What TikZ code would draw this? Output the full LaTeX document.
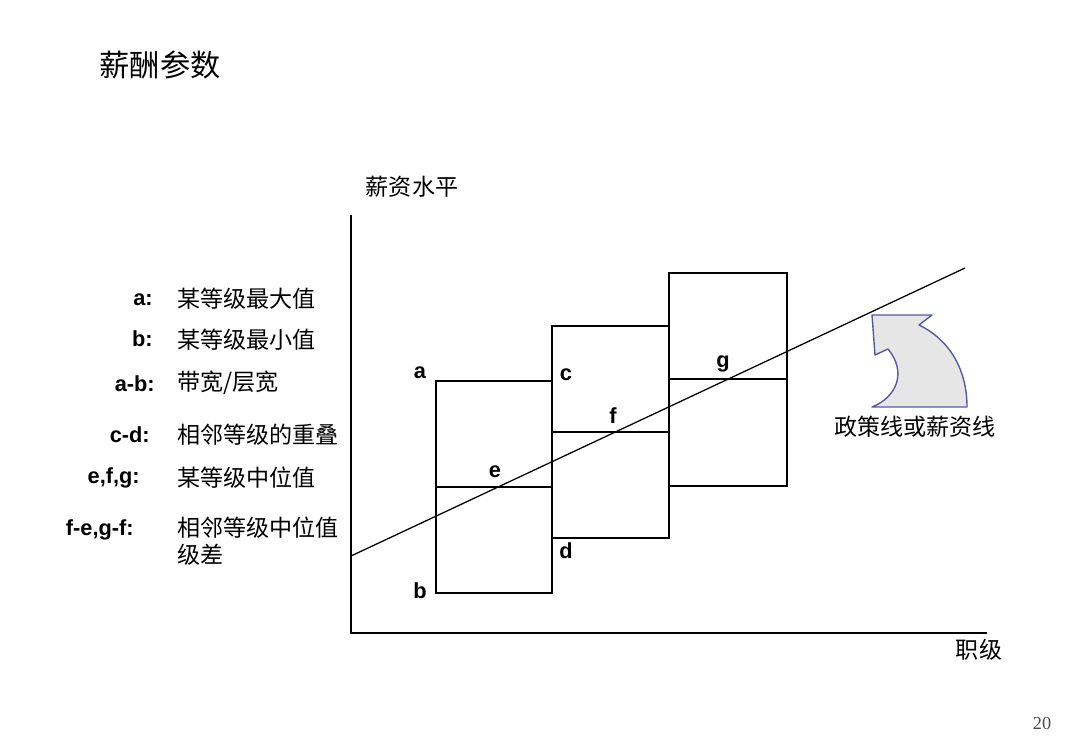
\documentclass[tikz,border=0pt]{standalone}
\usepackage{fontspec}
\setmainfont{Liberation Sans}
\newfontfamily\cjk{Noto Sans CJK SC}
\newfontfamily\pagefont{Liberation Serif}
\definecolor{arrowblue}{RGB}{88,90,160}
\definecolor{arrowfill}{RGB}{230,230,230}
\begin{document}
\begin{tikzpicture}[x=0.025cm, y=-0.025cm,
  cn/.style={font=\cjk\fontsize{16.4}{20}\selectfont, inner sep=0pt},
  key/.style={font=\bfseries\fontsize{15.5}{18}\selectfont, inner sep=0pt, anchor=base east},
  pt/.style={font=\bfseries\fontsize{15.5}{18}\selectfont, inner sep=0pt, anchor=base},
  grade/.style={line width=1.2pt}]
  \useasboundingbox (0,0) rectangle (1080,748);

  % Title
  \node[cn, font=\cjk\fontsize{21.5}{25}\selectfont] (title) at (160,65) {薪酬参数};

  % Axes
  \coordinate (ytop) at (351,215);
  \coordinate (O) at (351,633);
  \coordinate (xend) at (987,633);
  \draw[line width=1.2pt] (ytop) -- (O) -- (xend);
  \node[cn] (ylab) at (412,187) {薪资水平};
  \node[cn] (xlab) at (979,650) {职级};

  % Grade ranges (min, mid, max)
  \draw[grade] (436,381) rectangle (552,593);
  \draw[grade] (436,487) -- (552,487);
  \draw[grade] (552,326) rectangle (669,538);
  \draw[grade] (552,432) -- (669,432);
  \draw[grade] (669,273) rectangle (787,486);
  \draw[grade] (669,379) -- (787,379);

  % Policy line
  \coordinate (p0) at (351,556);
  \coordinate (p1) at (965,268);
  \draw[line width=0.9pt] (p0) -- (p1);

  % Point labels
  \node[pt] (a) at (420,378) {a};
  \node[pt] (b) at (420,598) {b};
  \node[pt] (c) at (566,380) {c};
  \node[pt] (d) at (566,558) {d};
  \node[pt] (e) at (495,477) {e};
  \node[pt] (f) at (613,423) {f};
  \node[pt] (g) at (723,367) {g};

  % Curved arrow
  \draw[arrowblue, fill=arrowfill, line width=1pt, line join=round]
    (872,315) -- (932,315) -- (919,325)
    .. controls (950,340) and (967,370) .. (967,407) -- (872,407)
    .. controls (897,397) and (907,372) .. (888,349) -- (875,355) -- cycle;
  \node[cn] (policy) at (915,427) {政策线或薪资线};

  % Legend
  \foreach \y/\k/\r/\cy/\t [count=\i] in {305/a:/153/299/某等级最大值,
      347/b:/153/340/某等级最小值,
      391/a-b:/155/383/{带宽/层宽},
      442/c-d:/150/435/相邻等级的重叠,
      483/{e,f,g:}/140/478/某等级中位值,
      535/{f-e,g-f:}/134/528/相邻等级中位值} {
    \node[key] (k\i) at (\r,\y) {\k};
    \node[cn, anchor=west] (t\i) at (177,\cy) {\t};
  }
  \node[cn, anchor=west] (t6b) at (177,555) {级差};

  % Page number
  \node[font=\pagefont\fontsize{13}{15}\selectfont, text=black!70, inner sep=0pt] (page) at (1042,724) {20};
\end{tikzpicture}
\end{document}
